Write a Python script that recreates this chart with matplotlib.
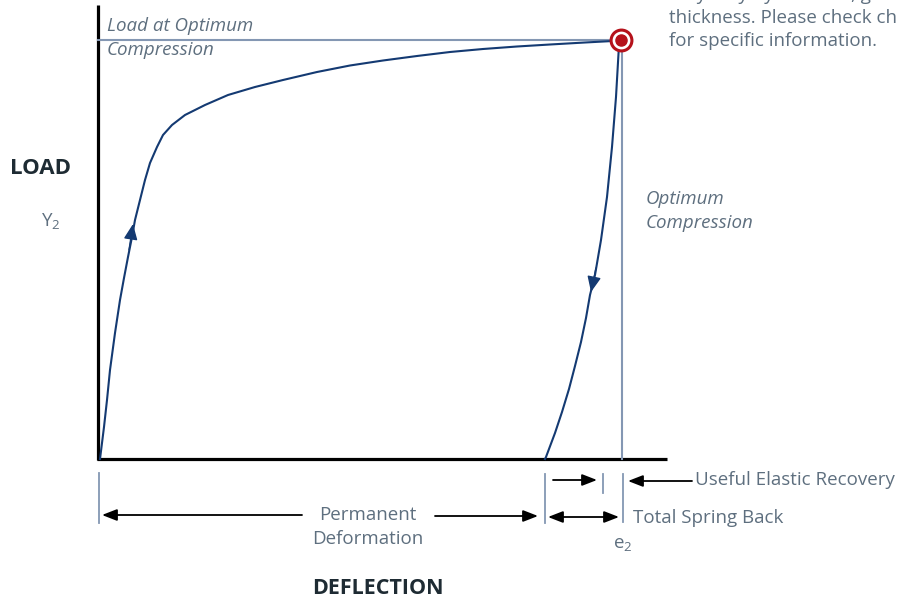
import matplotlib.pyplot as plt
import numpy as np

# curve points (pixel space, y down)
load_x = [100, 104, 107, 110, 115, 120, 124, 128, 132, 135, 140, 145, 150, 157, 163, 172,
          185, 205, 228, 255, 283, 317, 350, 383, 417, 450, 483, 517, 550, 585, 613]
load_y = [459, 427, 400, 370, 333, 300, 278, 257, 237, 220, 200, 180, 163, 147, 135, 125,
          115, 105, 95, 87, 80, 72, 65.5, 60.5, 56, 52, 49, 46.5, 44.5, 42.5, 41]
unload_x = [619, 616, 612, 607, 601, 595, 590, 586, 581, 575, 569, 562, 555, 546, 545]
unload_y = [45, 97, 147, 197, 240, 275, 295, 318, 342, 366, 389, 412, 433, 457, 459]

navy = '#143a72'
gray_line = '#8497b3'
txt = '#5e6f7f'
dark = '#1e2b33'
red = '#b5121b'

plt.rcParams['font.family'] = ['Open Sans', 'DejaVu Sans']

fig = plt.figure(figsize=(9, 6.05), dpi=100)
ax = fig.add_axes([0, 0, 1, 1])
ax.set_xlim(0, 900)
ax.set_ylim(605, 0)
ax.axis('off')

# axes frame
ax.plot([98, 98], [5, 460], color='black', lw=2.3, solid_capstyle='butt')
ax.plot([97, 667], [459, 459], color='black', lw=2.3, solid_capstyle='butt')

# reference lines
ax.plot([98, 620], [40, 40], color=gray_line, lw=1.5)
ax.plot([622, 622], [40, 459], color=gray_line, lw=1.5)

# curves
ax.plot(load_x, load_y, color=navy, lw=1.5, solid_joinstyle='round')
ax.plot(unload_x, unload_y, color=navy, lw=1.5, solid_joinstyle='round')

def head(p0, p1):
    ax.annotate('', xy=p1, xytext=p0,
                arrowprops=dict(arrowstyle='-|>,head_length=0.95,head_width=0.42',
                                color=navy, lw=1.0, shrinkA=0, shrinkB=0))

head((129, 250), (133, 224))
head((596, 268), (591, 292))

# peak marker
ax.plot([621], [40], marker='o', ms=15, mfc='white', mec=red, mew=2.2)
ax.plot([621], [40], marker='o', ms=8, mfc=red, mec=red)

# bottom dimension ticks
for x0, y0, y1 in [(99, 473, 523), (545, 474, 523), (603, 474, 493), (623, 474, 522)]:
    ax.plot([x0, x0], [y0, y1], color=gray_line, lw=1.3)

def arrow(p0, p1, style='-|>'):
    ax.annotate('', xy=p1, xytext=p0,
                arrowprops=dict(arrowstyle=style + ',head_length=0.9,head_width=0.35',
                                color='black', lw=1.3, shrinkA=0, shrinkB=0))

arrow((302, 515), (102, 515))
arrow((435, 516), (538, 516))
arrow((553, 480), (597, 480))
arrow((548, 517), (619, 517), style='<|-|>')
arrow((692, 481), (628, 481))

fs = 13.5
ax.text(368, 515, 'Permanent', color=txt, fontsize=fs, ha='center', va='center')
ax.text(368, 539, 'Deformation', color=txt, fontsize=fs, ha='center', va='center')
ax.text(695, 480, 'Useful Elastic Recovery', color=txt, fontsize=fs, ha='left', va='center')
ax.text(633, 518, 'Total Spring Back', color=txt, fontsize=fs, ha='left', va='center')
ax.text(613, 545, r'e$_{\mathregular{2}}$', color=txt, fontsize=fs, ha='left', va='center')
ax.text(41, 222, r'Y$_{\mathregular{2}}$', color=txt, fontsize=fs, ha='left', va='center')

ax.text(40, 169, 'LOAD', color=dark, fontsize=16, fontweight='bold', ha='center', va='center')
ax.text(378, 589, 'DEFLECTION', color=dark, fontsize=15.5, fontweight='bold', ha='center', va='center')

ax.text(107, 26, 'Load at Optimum', color=txt, fontsize=fs, style='italic', ha='left', va='center')
ax.text(107, 50, 'Compression', color=txt, fontsize=fs, style='italic', ha='left', va='center')
ax.text(646, 199, 'Optimum', color=txt, fontsize=fs, style='italic', ha='left', va='center')
ax.text(646, 223, 'Compression', color=txt, fontsize=fs, style='italic', ha='left', va='center')

# top-right note, first line cut by the top edge as in the source
ax.text(669, -5, 'may vary by material, g', color=txt, fontsize=fs, ha='left', va='center')
ax.text(669, 18, 'thickness. Please check ch', color=txt, fontsize=fs, ha='left', va='center')
ax.text(669, 41, 'for specific information.', color=txt, fontsize=fs, ha='left', va='center')

fig.savefig('out.png', dpi=100)
